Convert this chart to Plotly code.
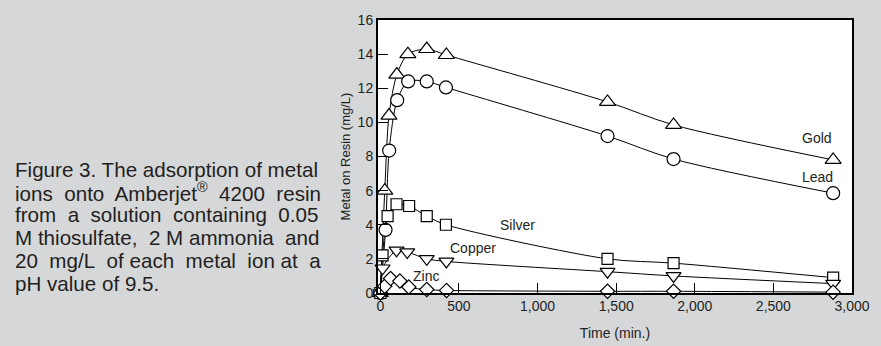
import plotly.graph_objects as go

# ---- data ----
gold_t = [0, 28, 55, 105, 175, 295, 420, 1445, 1865, 2880]
gold_v = [0, 6.0, 10.4, 12.8, 14.0, 14.3, 13.95, 11.2, 9.85, 7.8]
lead_t = [0, 33, 56, 107, 177, 295, 417, 1445, 1865, 2880]
lead_v = [0, 3.7, 8.35, 11.3, 12.4, 12.4, 12.05, 9.2, 7.85, 5.85]
silver_t = [0, 14, 46, 103, 183, 295, 417, 1445, 1865, 2880]
silver_v = [0, 2.2, 4.5, 5.2, 5.1, 4.5, 4.0, 2.0, 1.75, 0.9]
copper_t = [0, 14, 103, 171, 295, 420, 1445, 1865, 2880]
copper_v = [0, 1.45, 2.5, 2.4, 2.0, 1.85, 1.25, 1.0, 0.55]
zinc_t = [0, 28, 65, 124, 181, 295, 421, 1445, 1865, 2880]
zinc_v = [0, 0.4, 0.85, 0.7, 0.35, 0.2, 0.15, 0.1, 0.1, 0.05]

series_names = ["Gold", "Lead", "Silver", "Copper", "Zinc"]
label_t = [2778, 2782, 873, 589, 290]
label_v = [9.07, 6.82, 3.99, 2.62, 1.0]

x_ticks = [0, 500, 1000, 1500, 2000, 2500, 3000]
y_ticks = [0, 2, 4, 6, 8, 10, 12, 14, 16]

NB = "\u00a0"
caption_lines = [
    "Figure 3. The adsorption of metal",
    f"ions{NB} onto{NB} Amberjet<sup>®</sup>{NB} 4200{NB} resin",
    f"from{NB} a{NB} solution{NB} containing{NB} 0.05",
    f"M thiosulfate,{NB} 2 M ammonia{NB} and",
    f"20{NB} mg/L{NB} of each{NB} metal{NB} ion at{NB} a",
    "pH value of 9.5.",
]

# ---- figure ----
W, H = 881, 346
ML, MR, MT, MB = 378, 29, 20, 53
PW, PH = W - ML - MR, H - MT - MB
INK = "#231f20"
FONT = "Liberation Sans, Arial, Helvetica, sans-serif"

series = [
    (gold_t, gold_v, "triangle-up", 14),
    (lead_t, lead_v, "circle", 13),
    (silver_t, silver_v, "square", 11),
    (copper_t, copper_v, "triangle-down", 13),
    (zinc_t, zinc_v, "diamond", 11),
]

fig = go.Figure()
for (t, v, sym, sz), name in zip(series, series_names):
    fig.add_trace(go.Scatter(
        x=t, y=v, mode="lines", name=name, showlegend=False,
        line=dict(color="black", width=1, shape="spline", smoothing=0.8),
        hoverinfo="skip",
    ))
for (t, v, sym, sz), name in zip(series, series_names):
    fig.add_trace(go.Scatter(
        x=t, y=v, mode="markers", name=name, showlegend=False,
        cliponaxis=False,
        marker=dict(symbol=sym, size=sz, color="white",
                    line=dict(color="black", width=1.2)),
    ))

for name, tx, ty in zip(series_names, label_t, label_v):
    fig.add_annotation(x=tx, y=ty, text=name, showarrow=False,
                       xanchor="center", yanchor="middle",
                       font=dict(size=14, color=INK, family=FONT))

def px_x(p):
    return (p - ML) / PW

def px_y(p):
    return 1 - (p - MT) / PH

cap_x = 13
cap_y0 = 169
cap_dy = 22.8
for i, line in enumerate(caption_lines):
    fig.add_annotation(xref="paper", yref="paper",
                       x=px_x(cap_x), y=px_y(cap_y0 + i * cap_dy),
                       text=line, showarrow=False,
                       xanchor="left", yanchor="middle",
                       font=dict(size=20.6, color=INK, family=FONT))

axis_common = dict(
    showline=True, linecolor="black", linewidth=2, mirror=True,
    ticks="inside", ticklen=10, tickwidth=1, tickcolor="black",
    showgrid=False, zeroline=False,
    tickfont=dict(size=14, color=INK, family=FONT),
)

fig.update_xaxes(range=[-15, 3000], tickvals=x_ticks,
                 ticktext=[f"{v:,}" for v in x_ticks],
                 ticklabelstandoff=-1,
                 title=dict(text="Time (min.)", standoff=15,
                            font=dict(size=14, color=INK, family=FONT)),
                 **axis_common)
fig.update_yaxes(range=[0, 16], tickvals=y_ticks,
                 title=dict(text="Metal on Resin (mg/L)", standoff=4,
                            font=dict(size=13, color=INK, family=FONT)),
                 **axis_common)

fig.update_layout(
    width=W, height=H,
    margin=dict(l=ML, r=MR, t=MT, b=MB, autoexpand=False),
    paper_bgcolor="#d6d7d9", plot_bgcolor="white",
    showlegend=False,
    font=dict(family=FONT, color=INK),
)

fig.write_html(
    "out.html",
    config={"displayModeBar": False},
    post_script="document.body.style.margin='0';document.body.style.padding='0';",
)
